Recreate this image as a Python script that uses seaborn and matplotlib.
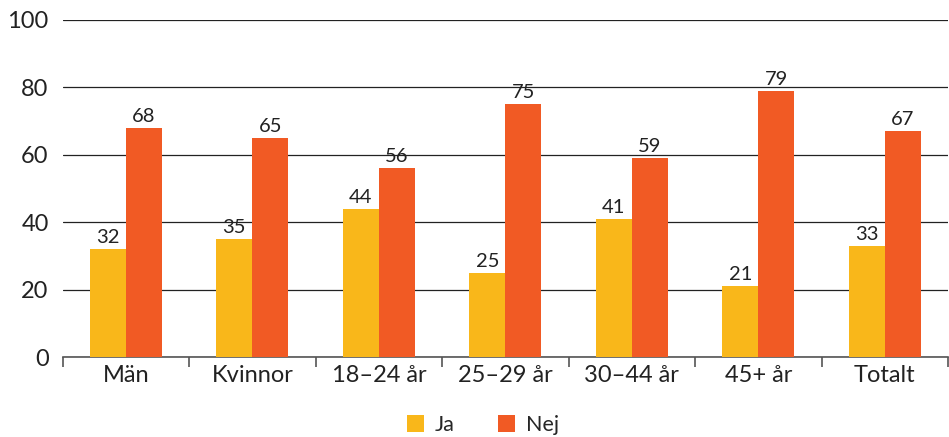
import numpy as np
import pandas as pd
import matplotlib
matplotlib.use('Agg')
import matplotlib.pyplot as plt
import seaborn as sns

categories = ['Män', 'Kvinnor', '18–24 år', '25–29 år', '30–44 år', '45+ år', 'Totalt']
ja = [32, 35, 44, 25, 41, 21, 33]
nej = [68, 65, 56, 75, 59, 79, 67]
series = ['Ja', 'Nej']
colors = ['#F9B71A', '#F15A24']

df = pd.DataFrame({
    'kategori': categories * 2,
    'svar': ['Ja'] * len(categories) + ['Nej'] * len(categories),
    'andel': ja + nej,
})

sns.set_style('white')
plt.rcParams['font.family'] = ['Lato', 'DejaVu Sans']

fig, ax = plt.subplots(figsize=(9.49, 4.37), dpi=100)
fig.subplots_adjust(left=0.066, right=0.999, top=0.955, bottom=0.183)

sns.barplot(data=df, x='kategori', y='andel', hue='svar', hue_order=series,
            palette=colors, width=0.57, saturation=1, linewidth=0, ax=ax, zorder=3)

for cont in ax.containers:
    ax.bar_label(cont, fontsize=14.5, color='#222222', padding=2)

ax.set_ylim(0, 100)
ax.set_xlim(-0.5, len(categories) - 0.5)
ax.set_yticks(np.arange(0, 101, 20))
ax.yaxis.grid(True, color='#222222', linewidth=0.9, zorder=0)
ax.set_xlabel('')
ax.set_ylabel('')
ax.tick_params(axis='y', length=0, labelsize=17, colors='#222222', pad=10)
ax.tick_params(axis='x', length=0, labelsize=17, colors='#222222', pad=6)

# tick marks between the category groups
ax.set_xticks(np.arange(-0.5, len(categories), 1.0), minor=True)
ax.tick_params(axis='x', which='minor', bottom=True, length=7, width=1.2,
               color='#555555', direction='out')

for s in ['top', 'right', 'left']:
    ax.spines[s].set_visible(False)
ax.spines['bottom'].set_color('#555555')
ax.spines['bottom'].set_linewidth(1.2)

ax.legend(loc='upper center', bbox_to_anchor=(0.475, -0.115), ncol=2, frameon=False,
          fontsize=15.5, handlelength=0.8, handleheight=0.8, columnspacing=2.0,
          handletextpad=0.5)

plt.savefig('out.png', dpi=100)
